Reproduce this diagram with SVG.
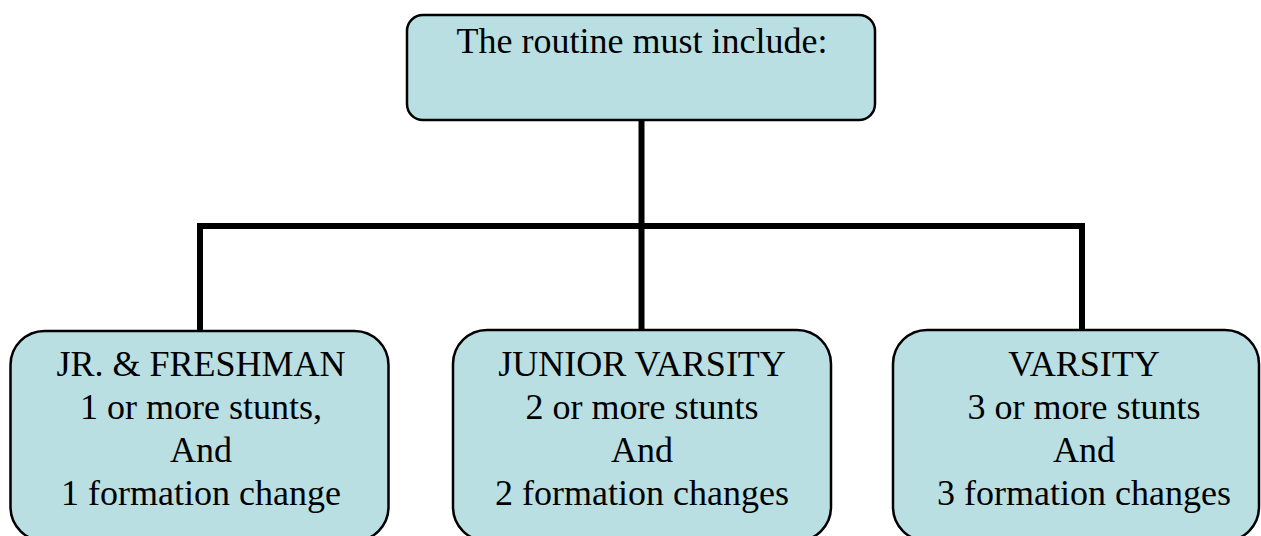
<svg xmlns="http://www.w3.org/2000/svg" width="1261" height="536" viewBox="0 0 1261 536">
<style>
.box{fill:#B9DFE3;stroke:#000;stroke-width:2.5}
.t{font-family:'Liberation Serif','Times New Roman',serif;font-size:36px;fill:#000;text-anchor:middle}
.c{fill:none;stroke:#000;stroke-width:6;stroke-linecap:butt}
</style>
<rect width="1261" height="536" fill="#fff"/>
<g id="connectors">
<path class="c" d="M641.5 120 V226"/>
<path class="c" d="M200 331 V226 H1082 V331"/>
<path class="c" d="M641.5 226 V331"/>
</g>
<g id="root">
<rect class="box" x="407" y="15" width="468" height="105" rx="16" ry="16"/>
<text class="t" x="642" y="53">The routine must include:</text>
</g>
<g id="jr-freshman">
<rect class="box" x="10.5" y="331" width="378" height="210" rx="34" ry="34"/>
<text class="t" x="201" y="376">JR. &amp; FRESHMAN</text>
<text class="t" x="201" y="419">1 or more stunts,</text>
<text class="t" x="201" y="462">And</text>
<text class="t" x="201" y="505">1 formation change</text>
</g>
<g id="junior-varsity">
<rect class="box" x="453" y="330" width="378" height="211" rx="34" ry="34"/>
<text class="t" x="642" y="376">JUNIOR VARSITY</text>
<text class="t" x="642" y="419">2 or more stunts</text>
<text class="t" x="642" y="462">And</text>
<text class="t" x="642" y="505">2 formation changes</text>
</g>
<g id="varsity">
<rect class="box" x="893" y="330" width="366" height="211" rx="34" ry="34"/>
<text class="t" x="1084" y="376">VARSITY</text>
<text class="t" x="1084" y="419">3 or more stunts</text>
<text class="t" x="1084" y="462">And</text>
<text class="t" x="1084" y="505">3 formation changes</text>
</g>
</svg>
